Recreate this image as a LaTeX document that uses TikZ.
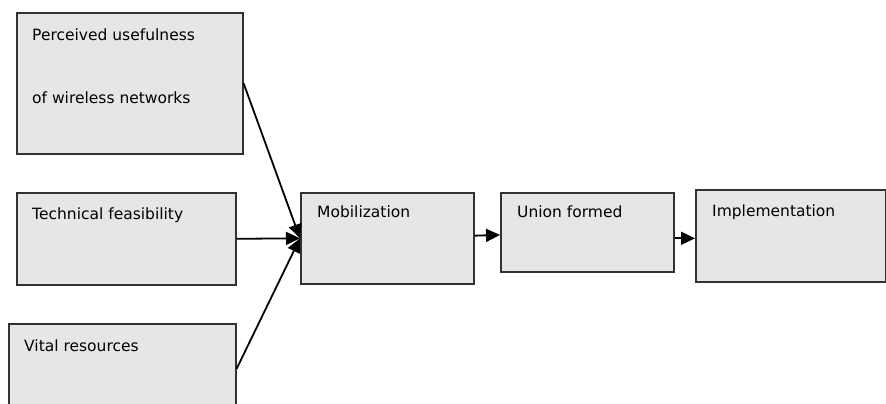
\documentclass[tikz,border=0pt]{standalone}
\usepackage{fontspec}
\setmainfont{DejaVu Sans}
\usetikzlibrary{arrows.meta, positioning}
\definecolor{boxgray}{RGB}{230, 230, 230}
\definecolor{edgegray}{RGB}{50, 50, 50}

\begin{document}
\begin{tikzpicture}[
    x=1pt, y=-1pt,
    box/.style={draw=edgegray, fill=boxgray, line width=1.6pt, anchor=north west, inner sep=0pt},
    lbl/.style={inner sep=0pt, align=left, font=\fontsize{15.5}{18}\selectfont},
    arrow/.style={-{Triangle[length=14pt, width=13pt]}, line width=1.8pt}
]
\useasboundingbox (0,0) rectangle (886,404);

% left column
\node[box, minimum width=226pt, minimum height=141pt] (usefulness) at (16,12) {};
\node[box, minimum width=219pt, minimum height=92pt] (feasibility) at (16,192) {};
\node[box, minimum width=227pt, minimum height=90pt] (resources) at (8,323) {};

% chain
\node[box, minimum width=173pt, minimum height=91pt] (mobilization) at (300,192) {};
\node[box, minimum width=173pt, minimum height=79pt] (union) at (500,192) {};
\node[box, minimum width=190pt, minimum height=92pt] (implementation) at (695,189) {};

% labels
\node[lbl, below right=17pt and 16pt of usefulness.north west] {Perceived usefulness\\[45pt]of wireless networks};
\node[lbl, below right=16pt and 16pt of feasibility.north west] {Technical feasibility};
\node[lbl, below right=17pt and 16pt of resources.north west] {Vital resources};
\node[lbl, below right=14pt and 17pt of mobilization.north west] {Mobilization};
\node[lbl, below right=14pt and 17pt of union.north west] {Union formed};
\node[lbl, below right=16pt and 17pt of implementation.north west] {Implementation};

\draw[arrow] (usefulness.east) -- (mobilization.west);
\draw[arrow] (feasibility.east) -- (mobilization.west);
\draw[arrow] (resources.east) -- (mobilization.west);
\draw[arrow] (mobilization) -- (union);
\draw[arrow] (union.east |- mobilization.west) -- (implementation.west |- mobilization.west);

\end{tikzpicture}
\end{document}
